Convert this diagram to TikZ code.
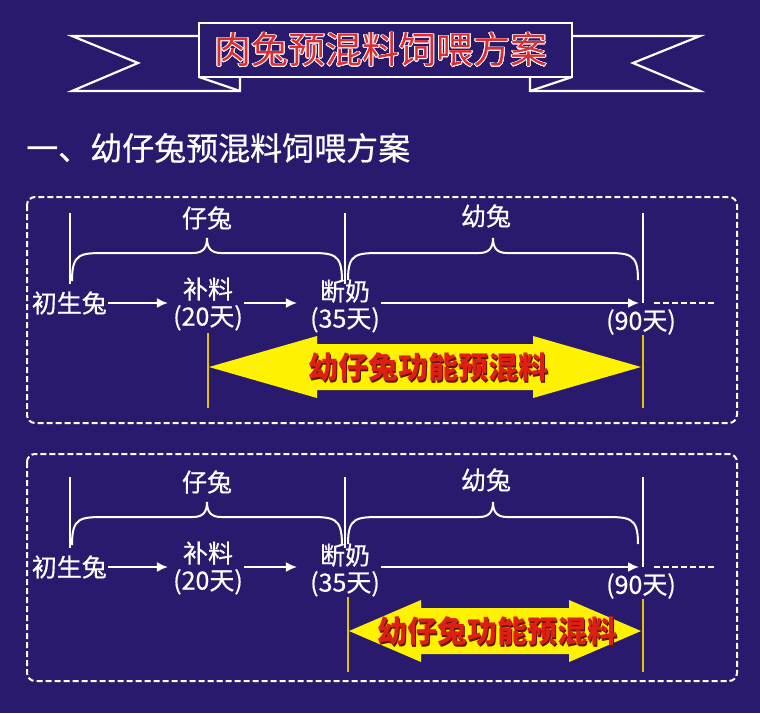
\documentclass[tikz,border=0pt]{standalone}
\usepackage{fontspec}
\usepackage{contour}
\usepackage{tikz}
\usetikzlibrary{arrows.meta}

\newfontfamily\cjk{Noto Sans CJK SC}
\newfontfamily\cjkthick[FakeBold=0.6]{Noto Sans CJK SC}
\definecolor{bgnavy}{RGB}{42,26,110}
\definecolor{goldline}{RGB}{228,196,0}
\definecolor{labelred}{RGB}{222,32,20}
\definecolor{shadowred}{RGB}{95,25,10}
\definecolor{titlered}{RGB}{218,45,50}
\contourlength{0.7pt}

% red text with a dark drop shadow
\newcommand\dropshadow[1]{\makebox[0pt][l]{\kern1.6pt\raisebox{-1.6pt}{\color{shadowred}#1}}#1}
% curly brace over a span: x1, x2, y of tip, y of ends
\newcommand\curlyover[4]{%
  \pgfmathsetmacro\xm{(#1+#2)/2}%
  \draw[wline] (#1,#4) .. controls (#1,#3+15) and (#1+8,#3+15) .. (#1+35,#3+15)
    -- (\xm-14,#3+15) .. controls (\xm-4,#3+15) and (\xm,#3+10) .. (\xm,#3)
    .. controls (\xm,#3+10) and (\xm+4,#3+15) .. (\xm+14,#3+15)
    -- (#2-35,#3+15) .. controls (#2-8,#3+15) and (#2,#3+15) .. (#2,#4);}

\begin{document}
\begin{tikzpicture}[
    x=1pt, y=-1pt,
    wline/.style={white, line width=2pt},
    warrow/.style={wline, -{Latex[length=11pt,width=10pt]}},
    panel/.style={white, line width=2pt, dash pattern=on 6pt off 3pt, rounded corners=8pt},
    ribbon/.style={white, line width=2.2pt, line join=miter},
    lbl/.style={text=white, font=\cjkthick\fontsize{25}{27}\selectfont, inner sep=1pt},
    stage/.style={lbl, align=center},
    mixlbl/.style={text=labelred, font=\cjk\bfseries\fontsize{30}{32}\selectfont, inner sep=0pt},
    goldbar/.style={goldline, line width=2.5pt}
]
\fill[bgnavy] (0,0) rectangle (760,713);
\useasboundingbox (0,0) rectangle (760,713);

% title ribbon
\draw[ribbon] (199,36) -- (72,36) -- (138,63) -- (72,91) -- (240,91) -- (240,77);
\draw[ribbon] (199,77) -- (240,91);
\draw[ribbon] (572,36) -- (700,36) -- (633,63) -- (700,91) -- (530,91) -- (530,77);
\draw[ribbon] (572,77) -- (530,91);
\node[draw=white, line width=2.2pt, fill=bgnavy, minimum width=373pt, minimum height=54pt, inner sep=0pt] (titlebox) at (385.5,50) {};
\node[text=titlered, font=\cjk\fontsize{37}{40}\selectfont, inner sep=0pt] (title) at (381,50) {\contour{white!85!pink}{肉兔预混料饲喂方案}};

\node[lbl, font=\cjkthick\fontsize{32}{34}\selectfont, anchor=west] (sub) at (25,148) {一、幼仔兔预混料饲喂方案};

\draw[panel] (27,197) rectangle (737,423);
\draw[panel] (27,454) rectangle (737,681);

\foreach \p/\dy/\xl/\hl/\tx in {1/0/209/108/428, 2/264/349/72/497}{
\begin{scope}[yshift=-\dy pt]
  \draw[wline] (70,213) -- (70,284);
  \draw[wline] (345,213) -- (345,284);
  \draw[wline] (643,213) -- (643,303);
  \curlyover{72}{342}{238}{281}
  \curlyover{348}{638}{238}{280}
  \node[lbl] (pup\p) at (207,218) {仔兔};
  \node[lbl] (young\p) at (486,216) {幼兔};

  \node[lbl, anchor=east] (born\p) at (108,303) {初生兔};
  \node[stage] (feed\p) at (208,304) {补料\\(20天)};
  \node[stage] (wean\p) at (345,306) {断奶\\(35天)};
  \coordinate (end\p) at (639,303);
  \node[lbl] (day\p) at (641,322) {(90天)};
  \coordinate (dash\p) at (654,303);
  \coordinate (tail\p) at (716,303);

  \draw[warrow, shorten >=4pt] (born\p.east) -- (feed\p.west |- born\p.east);
  \draw[warrow, shorten >=12pt] (feed\p.east |- born\p.east) -- (wean\p.west |- born\p.east);
  \draw[warrow] (wean\p.east |- end\p) -- (end\p);
  \draw[wline, dash pattern=on 6pt off 3pt] (dash\p) -- (tail\p);

  \fill[yellow] (\xl,367) -- ({\xl+\hl},336) -- ({\xl+\hl},344) -- ({641-\hl},344)
    -- ({641-\hl},336) -- (641,367) -- ({641-\hl},398) -- ({641-\hl},390)
    -- ({\xl+\hl},390) -- ({\xl+\hl},398) -- cycle;
  \draw[goldbar] (\xl-1,333) -- (\xl-1,408);
  \draw[goldbar] (643,335) -- (643,408);
  \node[mixlbl] (mix\p) at (\tx,368) {\dropshadow{幼仔兔功能预混料}};
\end{scope}
}
\end{tikzpicture}
\end{document}
